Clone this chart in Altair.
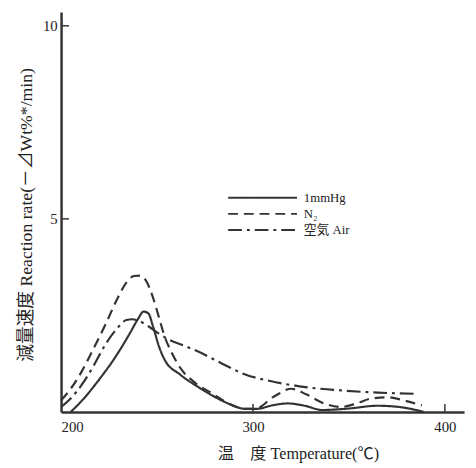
import altair as alt
import pandas as pd

# ---- data ----
t_vac = [205, 211, 220, 228, 236, 240, 243, 245.5, 248, 251, 254, 262, 271, 279, 288, 296, 302, 310, 318, 327, 336, 348, 365, 376, 384, 389]
v_vac = [0, 0.3, 0.85, 1.4, 2.05, 2.4, 2.6, 2.55, 2.2, 1.7, 1.35, 0.97, 0.66, 0.42, 0.2, 0.08, 0.08, 0.17, 0.22, 0.16, 0.05, 0.08, 0.16, 0.13, 0.06, 0.0]

t_n2 = [200, 205, 211, 217, 223, 229, 234, 238, 241, 244, 248, 251, 254, 258, 262, 270, 279, 288, 296, 301, 311, 320, 328, 337, 346, 354, 361, 370, 380, 388]
v_n2 = [0.3, 0.6, 1.07, 1.65, 2.25, 2.9, 3.35, 3.52, 3.53, 3.42, 2.95, 2.45, 1.95, 1.5, 1.15, 0.75, 0.47, 0.2, 0.08, 0.08, 0.4, 0.6, 0.45, 0.22, 0.13, 0.22, 0.34, 0.38, 0.28, 0.17]

t_air = [200, 205, 211, 217, 223, 229, 234, 237, 241, 246, 251, 256, 264, 272, 284, 296, 309, 322, 335, 348, 365, 384]
v_air = [0.13, 0.35, 0.72, 1.2, 1.74, 2.15, 2.38, 2.4, 2.35, 2.2, 2.03, 1.88, 1.72, 1.55, 1.25, 0.97, 0.8, 0.68, 0.6, 0.55, 0.5, 0.47]

series = ["1mmHg", "N₂", "空気 Air"]
dashes = [[1, 0], [10, 6], [14, 5, 3, 5]]

y_ticks = [5, 10]
x_ticks = [300, 400]

W, H = 410, 407
INK = "#333333"
SERIF = "Liberation Serif, Noto Sans CJK JP"

rows = []
for s, ts, vs in zip(series, [t_vac, t_n2, t_air], [v_vac, v_n2, v_air]):
    for i, (t, v) in enumerate(zip(ts, vs)):
        rows.append({"series": s, "temp": t, "rate": v, "order": i})
df = pd.DataFrame(rows)

xscale = alt.Scale(domain=[200, 410], nice=False, zero=False)
yscale = alt.Scale(domain=[0, 10.36], nice=False)

lines = alt.Chart(df).mark_line(strokeWidth=2.2, color=INK, interpolate="monotone").encode(
    x=alt.X("temp:Q", scale=xscale,
            axis=alt.Axis(values=[200, 300, 400], title="温　度 Temperature(℃)", grid=False,
                          ticks=False, domainWidth=2.5, domainColor=INK, labelFont=SERIF,
                          labelFontSize=15, labelColor="#222", labelPadding=8,
                          titleFont=SERIF, titleFontSize=16.5, titleFontWeight="normal",
                          titleColor="#222", titleX=241, titleY=47, titleAnchor="middle",
                          titleBaseline="alphabetic")),
    y=alt.Y("rate:Q", scale=yscale,
            axis=alt.Axis(values=y_ticks, title="減量速度 Reaction rate(－⊿Wt%*/min)", grid=False,
                          ticks=False, domainWidth=2.5, domainColor=INK, labelFont=SERIF,
                          labelFontSize=15, labelColor="#222", labelPadding=4,
                          titleFont=SERIF, titleFontSize=18, titleFontWeight="normal",
                          titleColor="#222", titlePadding=7, titleY=206, titleAnchor="middle")),
    strokeDash=alt.StrokeDash("series:N", scale=alt.Scale(domain=series, range=dashes), legend=None),
    detail="series:N",
    order="order:Q",
)

ytick_df = pd.DataFrame({"v": y_ticks})
yt = alt.Chart(ytick_df).mark_rule(color=INK, strokeWidth=1.5).encode(
    y=alt.Y("v:Q", scale=yscale), x=alt.value(0), x2=alt.value(8))
xtick_df = pd.DataFrame({"t": x_ticks})
xt = alt.Chart(xtick_df).mark_rule(color=INK, strokeWidth=1.5).encode(
    x=alt.X("t:Q", scale=xscale), y=alt.value(H), y2=alt.value(H - 8))

leg_layers = []
for i, (s, d) in enumerate(zip(series, dashes)):
    yy = 189 + i * 16.5
    leg_layers.append(alt.Chart(pd.DataFrame({"s": [s]})).mark_rule(
        color=INK, strokeWidth=2, strokeDash=d).encode(
        x=alt.value(170), x2=alt.value(240), y=alt.value(yy)))
    leg_layers.append(alt.Chart(pd.DataFrame({"s": [s]})).mark_text(
        font=SERIF, fontSize=13, color="#222", align="left", baseline="middle").encode(
        x=alt.value(247), y=alt.value(yy), text="s:N"))

chart = alt.layer(lines, yt, xt, *leg_layers).properties(
    width=W, height=H,
    padding={"left": 54, "top": 0, "right": 4, "bottom": 49},
    autosize=alt.AutoSizeParams(type="none"),
    background="white",
).configure_view(stroke=None)

chart.save("out.html", embed_options={"renderer": "svg", "actions": False})
